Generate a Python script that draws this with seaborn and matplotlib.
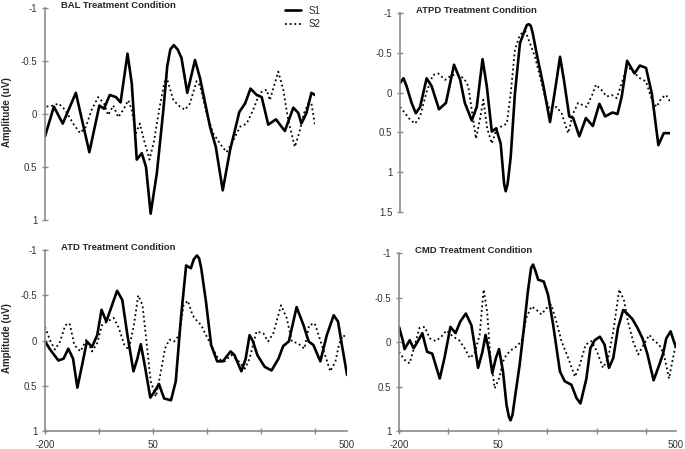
import matplotlib
matplotlib.use("Agg")
import pandas as pd
import seaborn as sns
import matplotlib.pyplot as plt

sns.set_style("white")
plt.rcParams["font.family"] = ["Liberation Sans", "DejaVu Sans"]

# time points (ms) and amplitudes (uV)
t_bal_s1 = [-200, -177, -154, -120, -85, -59, -47, -32, -16, -4, 14, 25, 38, 51, 62, 74, 90, 107, 117, 125, 134, 144,
            154, 169, 189, 202, 228, 243, 261, 280, 304, 319, 333, 349, 362, 379, 399, 422, 444, 457, 465, 478, 491, 500]
bal_s1 = [0.21, -0.07, 0.09, -0.20, 0.36, -0.08, -0.05, -0.18, -0.16, -0.11, -0.57, -0.29, 0.43, 0.37, 0.50, 0.94,
          0.56, -0.04, -0.45, -0.61, -0.65, -0.61, -0.53, -0.20, -0.51, -0.34, 0.12, 0.31, 0.72, 0.34, -0.02, -0.10,
          -0.24, -0.18, -0.16, 0.10, 0.05, 0.16, -0.06, -0.01, 0.09, -0.01, -0.20, -0.18]
t_bal_s2 = [-196, -178, -165, -148, -127, -109, -94, -79, -62, -47, -36, -23, -10, 3, 16, 25, 36, 46, 57, 71, 83, 96,
            109, 115, 133, 150, 163, 176, 193, 202, 219, 236, 254, 271, 288, 306, 323, 340, 357, 375, 383, 405, 418,
            431, 448, 459, 472, 483, 491, 500]
bal_s2 = [-0.07, -0.08, -0.10, -0.04, 0.09, 0.18, 0.12, -0.04, -0.16, -0.10, 0.01, -0.08, 0.03, -0.04, -0.13, -0.04,
          0.18, 0.09, 0.25, 0.43, 0.25, -0.04, -0.29, -0.35, -0.13, -0.07, -0.04, -0.10, -0.31, -0.27, -0.01, 0.18,
          0.28, 0.36, 0.25, 0.12, 0.09, -0.04, -0.20, -0.23, -0.13, -0.40, -0.23, 0.06, 0.31, 0.18, -0.01, -0.10,
          -0.10, 0.10]

t_atpd_s1 = [-200, -191, -183, -170, -159, -148, -131, -118, -99, -81, -70, -60, -44, -32, -14, -1, 14, 25, 38, 49,
             61, 70, 74, 79, 87, 98, 111, 124, 129, 134, 139, 144, 156, 172, 189, 202, 215, 225, 239, 249, 265, 282,
             300, 317, 332, 351, 364, 375, 389, 408, 422, 438, 453, 470, 484, 500]
atpd_s1 = [-0.12, -0.18, -0.08, 0.13, 0.26, 0.18, -0.18, -0.08, 0.21, 0.13, -0.12, -0.35, -0.16, 0.13, 0.35, 0.18,
           -0.42, -0.08, 0.49, 0.45, 0.64, 1.15, 1.24, 1.15, 0.81, 0.01, -0.62, -0.79, -0.85, -0.86, -0.84, -0.75,
           -0.45, -0.08, 0.37, -0.03, -0.45, -0.16, 0.30, 0.32, 0.55, 0.32, 0.42, 0.14, 0.30, 0.25, 0.27, 0.05, -0.40,
           -0.24, -0.34, -0.31, 0.01, 0.66, 0.51, 0.51]
t_atpd_s2 = [-200, -187, -174, -161, -148, -131, -115, -101, -83, -66, -51, -34, -23, -14, -3, 7, 16, 26, 38, 51, 61,
             77, 87, 98, 111, 125, 137, 150, 163, 176, 189, 206, 219, 236, 249, 262, 284, 300, 308, 323, 336, 349, 362,
             375, 389, 405, 422, 438, 453, 465, 478, 490, 500]
atpd_s2 = [0.18, 0.26, 0.34, 0.39, 0.30, -0.01, -0.22, -0.24, -0.16, -0.22, -0.22, -0.18, -0.08, 0.22, 0.58, 0.34,
           0.09, 0.45, 0.64, 0.45, 0.43, 0.39, 0.01, -0.54, -0.73, -0.77, -0.62, -0.45, -0.20, 0.05, 0.22, 0.18, 0.26,
           0.51, 0.26, 0.13, 0.18, 0.01, -0.10, -0.03, 0.05, 0.03, 0.07, -0.12, -0.33, -0.26, -0.18, -0.14, 0.09, 0.18,
           0.07, 0.03, 0.11]

t_atd_s1 = [-200, -188, -169, -157, -146, -135, -125, -114, -103, -91, -79, -69, -58, -47, -33, -21, -9, 5, 14, 22,
            31, 44, 53, 64, 76, 92, 103, 115, 127, 138, 145, 152, 157, 162, 173, 185, 199, 212, 230, 239, 255, 265,
            274, 282, 292, 309, 325, 341, 352, 365, 383, 399, 411, 422, 438, 453, 469, 479, 488, 500]
atd_s1 = [0.01, 0.10, 0.22, 0.20, 0.09, 0.20, 0.52, 0.27, 0.01, 0.07, -0.06, -0.34, -0.21, -0.36, -0.55, -0.45, -0.06,
          0.34, 0.20, 0.04, 0.27, 0.63, 0.57, 0.48, 0.64, 0.66, 0.45, -0.25, -0.83, -0.80, -0.90, -0.94, -0.91, -0.80,
          -0.43, 0.05, 0.23, 0.23, 0.12, 0.16, 0.34, 0.20, -0.06, 0.01, 0.16, 0.29, 0.33, 0.20, 0.06, 0.01, -0.37,
          -0.17, 0.01, 0.05, 0.23, -0.06, -0.28, -0.21, 0.05, 0.38]
t_atd_s2 = [-200, -188, -177, -165, -153, -143, -132, -118, -104, -91, -79, -68, -56, -41, -29, -16, -6, 6, 16, 26, 36,
            45, 57, 67, 78, 88, 99, 111, 121, 131, 142, 150, 162, 173, 185, 201, 216, 232, 249, 263, 274, 290, 306,
            317, 329, 347, 360, 372, 386, 401, 412, 425, 434, 449, 461, 473, 481, 490, 500]
atd_s2 = [-0.15, 0.00, 0.10, 0.01, -0.17, -0.19, 0.05, 0.12, -0.01, 0.12, 0.03, -0.17, -0.21, -0.25, -0.14, 0.05,
          0.10, -0.17, -0.50, -0.39, 0.05, 0.45, 0.62, 0.38, 0.09, -0.01, 0.01, -0.06, -0.39, -0.44, -0.28, -0.23,
          -0.17, -0.06, 0.05, 0.20, 0.23, 0.16, 0.23, 0.31, 0.20, -0.10, -0.08, 0.01, -0.08, -0.39, -0.25, 0.01, 0.03,
          0.09, -0.17, -0.19, -0.06, 0.16, 0.34, 0.23, 0.05, -0.06, -0.03]

t_cmd_s1 = [-200, -190, -186, -173, -163, -152, -141, -129, -116, -97, -85, -70, -57, -45, -31, -17, -9, 0, 11, 19,
            28, 36, 45, 53, 63, 72, 78, 82, 87, 93, 105, 115, 126, 134, 139, 145, 152, 166, 177, 190, 207, 219, 236,
            249, 259, 274, 284, 295, 308, 320, 331, 342, 354, 367, 377, 390, 403, 416, 428, 444, 458, 468, 476, 487,
            495, 500]
cmd_s1 = [-0.17, -0.01, 0.08, -0.02, 0.07, -0.01, -0.10, 0.11, 0.13, 0.41, 0.18, -0.17, -0.10, -0.23, -0.32, -0.19,
          0.03, 0.29, 0.11, -0.08, 0.11, 0.35, 0.18, 0.08, 0.33, 0.71, 0.84, 0.88, 0.82, 0.63, 0.26, -0.12, -0.57,
          -0.83, -0.87, -0.80, -0.70, -0.68, -0.53, -0.19, 0.33, 0.44, 0.48, 0.63, 0.69, 0.41, 0.07, -0.02, -0.06,
          0.03, 0.29, 0.18, -0.16, -0.36, -0.32, -0.26, -0.16, -0.04, 0.13, 0.43, 0.26, 0.13, -0.04, -0.12, -0.01,
          0.05]
t_cmd_s2 = [-200, -186, -173, -160, -148, -135, -122, -107, -93, -80, -63, -48, -34, -21, -9, 4, 14, 23, 31, 42, 53,
            63, 72, 84, 97, 110, 122, 135, 148, 160, 173, 185, 198, 211, 228, 245, 257, 272, 287, 301, 316, 329, 342,
            357, 369, 379, 392, 405, 419, 433, 444, 458, 470, 483, 493, 500]
cmd_s2 = [0.11, 0.20, 0.24, 0.03, -0.16, -0.17, -0.04, -0.01, -0.06, -0.13, -0.06, -0.02, 0.07, 0.18, 0.13, -0.08,
          -0.59, -0.34, 0.16, 0.52, 0.41, 0.22, 0.14, 0.09, 0.05, -0.01, -0.27, -0.40, -0.36, -0.31, -0.38, -0.42,
          -0.23, -0.01, 0.18, 0.39, 0.26, 0.03, -0.01, 0.11, 0.29, 0.18, -0.12, -0.59, -0.47, -0.23, -0.01, 0.14, 0.03,
          -0.08, -0.02, 0.03, 0.14, 0.41, 0.18, 0.03]

panels = [
    # title, s1, s2, y ticks, axes rect, bottom axis, y label
    ("BAL Treatment Condition", (t_bal_s1, bal_s1), (t_bal_s2, bal_s2), [-1, -0.5, 0, 0.5, 1],
     [0.0657, 0.510, 0.394, 0.472], False, True),
    ("ATPD Treatment Condition", (t_atpd_s1, atpd_s1), (t_atpd_s2, atpd_s2), [-1, -0.5, 0, 0.5, 1, 1.5],
     [0.584, 0.528, 0.394, 0.443], False, False),
    ("ATD Treatment Condition", (t_atd_s1, atd_s1), (t_atd_s2, atd_s2), [-1, -0.5, 0, 0.5, 1],
     [0.0657, 0.040, 0.441, 0.403], True, True),
    ("CMD Treatment Condition", (t_cmd_s1, cmd_s1), (t_cmd_s2, cmd_s2), [-1, -0.5, 0, 0.5, 1],
     [0.5825, 0.040, 0.404, 0.3965], True, False),
]

AXIS_GREY = "#8a8a8a"
DOTS = (0, (1, 1.6))

fig = plt.figure(figsize=(6.85, 4.49), dpi=100)

for i, (title, s1, s2, yticks, rect, bottom, ylab) in enumerate(panels):
    ax = fig.add_axes(rect)
    df1 = pd.DataFrame({"t": s1[0], "amp": s1[1]})
    df2 = pd.DataFrame({"t": s2[0], "amp": s2[1]})
    sns.lineplot(data=df2, x="t", y="amp", ax=ax, color="black", lw=1.3, linestyle=DOTS,
                 estimator=None, label="S2" if i == 0 else None)
    sns.lineplot(data=df1, x="t", y="amp", ax=ax, color="black", lw=1.9, solid_joinstyle="round",
                 estimator=None, label="S1" if i == 0 else None)

    ax.set_xlim(-200, 500)
    ax.set_ylim(yticks[-1], yticks[0])
    ax.set_yticks(yticks)
    ax.set_yticklabels([f"{v:g}" for v in yticks])
    ax.set_xlabel("")
    ax.set_ylabel("")

    for side in ["top", "right"]:
        ax.spines[side].set_visible(False)
    ax.spines["left"].set_color(AXIS_GREY)
    ax.spines["left"].set_linewidth(1.2)
    ax.tick_params(axis="y", direction="inout", length=5, width=1, color=AXIS_GREY,
                   labelsize=7, labelcolor="#333333", pad=3, left=True)

    if bottom:
        ax.spines["bottom"].set_color(AXIS_GREY)
        ax.spines["bottom"].set_linewidth(1.2)
        ax.set_xticks([-200, 50, 500])
        ax.set_xticklabels(["-200", "50", "500"])
        ax.set_xticks([-75, 175, 300, 425], minor=True)
        ax.tick_params(axis="x", which="both", direction="inout", length=5, width=1,
                       color=AXIS_GREY, labelsize=7, labelcolor="#333333", pad=4, bottom=True)
        ax.xaxis.get_major_ticks()[-1].tick1line.set_visible(False)
    else:
        ax.spines["bottom"].set_visible(False)
        ax.set_xticks([])

    if ax.get_legend() is not None:
        handles, labels = ax.get_legend_handles_labels()
        order = [labels.index("S1"), labels.index("S2")]
        ax.legend([handles[k] for k in order], [labels[k] for k in order], loc="upper right",
                  bbox_to_anchor=(1.035, 1.03), frameon=False, fontsize=7, handlelength=1.6,
                  handletextpad=0.8, labelspacing=0.35, borderaxespad=0)

    x0 = rect[0] + 0.024
    y0 = rect[1] + rect[3] + 0.006
    fig.text(x0, y0, title, fontsize=6.8, fontweight="bold", ha="left", va="center")

    if ylab:
        fig.text(0.010, rect[1] + rect[3] * 0.5 + 0.005, "Amplitude (uV)", rotation=90,
                 fontsize=7, fontweight="bold", ha="center", va="center")

fig.savefig("out.png", dpi=100)
